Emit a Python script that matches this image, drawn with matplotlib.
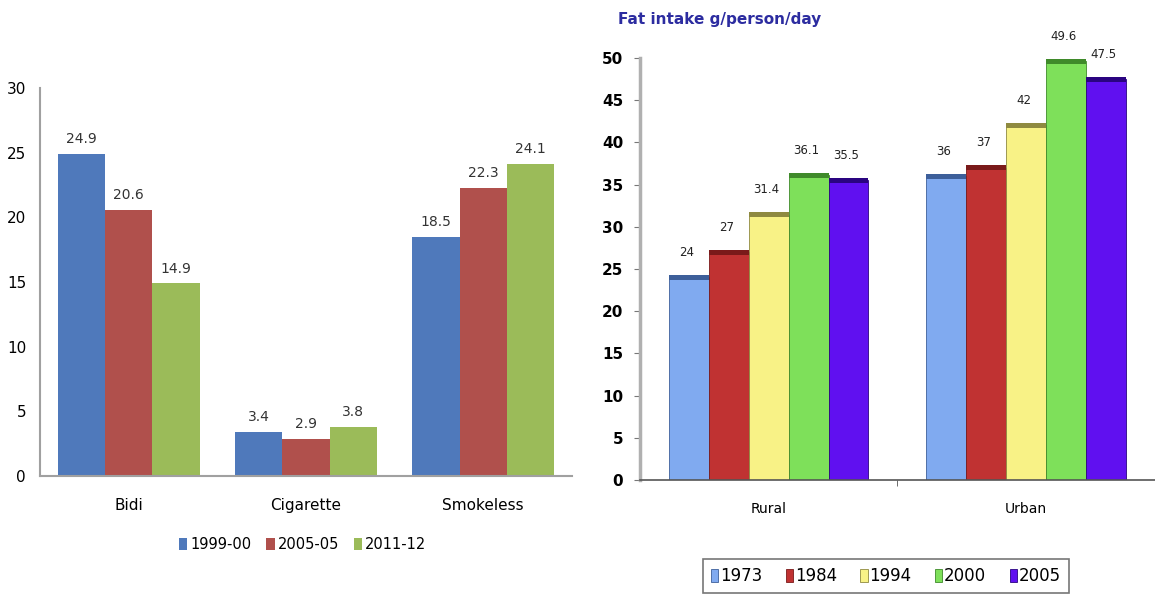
import matplotlib.pyplot as plt
import numpy as np

plt.rcParams['font.family'] = ['Liberation Sans Narrow', 'DejaVu Sans']

# left chart data
tob_cats = ['Bidi', 'Cigarette', 'Smokeless']
tob_years = ['1999-00', '2005-05', '2011-12']
tob_vals = [[24.9, 3.4, 18.5],
            [20.6, 2.9, 22.3],
            [14.9, 3.8, 24.1]]
tob_cols = ['#4f79bb', '#b0504c', '#9bbb59']

# right chart data
fat_cats = ['Rural', 'Urban']
fat_years = ['1973', '1984', '1994', '2000', '2005']
fat_vals = [[24, 36],
            [27, 37],
            [31.4, 42],
            [36.1, 49.6],
            [35.5, 47.5]]
fat_labels = [['24', '36'], ['27', '37'], ['31.4', '42'], ['36.1', '49.6'], ['35.5', '47.5']]
fat_cols = ['#80aaf0', '#c03232', '#f8f286', '#7ee05a', '#6010f0']
fat_dark = ['#3d5f9a', '#7a1a1a', '#8f8a40', '#3f8a2a', '#2a0480']

cond = ['DejaVu Sans Condensed', 'DejaVu Sans']

fig = plt.figure(figsize=(11.55, 6.02), dpi=100)

# ---- left ----
ax1 = fig.add_axes([0.0346, 0.209, 0.4605, 0.645])
x = np.arange(len(tob_cats))
w = 0.267
for i in range(3):
    xs = x + (i - 1) * w
    ax1.bar(xs, tob_vals[i], w, color=tob_cols[i], label=tob_years[i])
    for xx, v in zip(xs, tob_vals[i]):
        ax1.text(xx, v + 0.6, '%.1f' % v, ha='center', va='bottom', fontsize=10,
                 color='#333333', family=cond)
ax1.set_xlim(-0.5, 2.5)
ax1.set_ylim(0, 30)
ax1.set_yticks(range(0, 31, 5))
ax1.set_xticks(x)
ax1.set_xticklabels(tob_cats, fontsize=11, family=cond)
ax1.tick_params(axis='y', length=0, labelsize=11, pad=10)
ax1.tick_params(axis='x', length=0, pad=16)
for lab in ax1.get_yticklabels():
    lab.set_family(cond)
for s in ['top', 'right']:
    ax1.spines[s].set_visible(False)
ax1.spines['left'].set_color('#a0a0a0')
ax1.spines['bottom'].set_color('#a0a0a0')
ax1.spines['left'].set_linewidth(1.5)
ax1.spines['bottom'].set_linewidth(1.5)
fig.legend(*ax1.get_legend_handles_labels(), loc='center', bbox_to_anchor=(0.262, 0.095),
           ncol=3, frameon=False, handlelength=0.6, handleheight=0.9,
           handletextpad=0.2, columnspacing=1.0,
           prop={'family': cond, 'size': 10.5})

# ---- right ----
ax2 = fig.add_axes([0.554, 0.2027, 0.446, 0.701])
x2 = np.arange(len(fat_cats))
w2 = 0.155
for i in range(5):
    xs = x2 + (i - 2) * w2
    ax2.bar(xs, fat_vals[i], w2, color=fat_cols[i], edgecolor=fat_dark[i], linewidth=0.6,
            label=fat_years[i])
    # darker top strip for the old 3d look
    ax2.bar(xs, [0.6, 0.6], w2, bottom=np.array(fat_vals[i]) - 0.3, color=fat_dark[i])
    for xx, v, t in zip(xs, fat_vals[i], fat_labels[i]):
        ax2.text(xx - 0.01, v + 2.2, t, ha='center', va='bottom', fontsize=8.5,
                 color='#222222', family=cond)
ax2.set_xlim(-0.5, 1.5)
ax2.set_ylim(0, 50)
ax2.set_yticks(range(0, 51, 5))
ax2.set_xticks(x2)
ax2.set_xticklabels(fat_cats, fontsize=10, family=cond)
ax2.set_xticks([0.5], minor=True)
ax2.tick_params(axis='x', which='major', length=0, pad=16)
ax2.tick_params(axis='x', which='minor', length=4, color='#555555')
ax2.tick_params(axis='y', length=4, color='#777777', labelsize=11, pad=8)
for lab in ax2.get_yticklabels():
    lab.set_fontweight('bold')
    lab.set_family(cond)
for s in ['top', 'right']:
    ax2.spines[s].set_visible(False)
ax2.spines['left'].set_color('#b0b0b0')
ax2.spines['left'].set_linewidth(2.5)
ax2.spines['bottom'].set_color('#555555')
ax2.spines['bottom'].set_linewidth(1.2)
fig.text(0.535, 0.967, 'Fat intake g/person/day', fontsize=11, fontweight='bold',
         color='#2c2ca0', ha='left', va='center', family=cond)
h, l = ax2.get_legend_handles_labels()
h = h[0::2] if len(h) > 5 else h
leg = fig.legend(h[:5], fat_years, loc='center', bbox_to_anchor=(0.767, 0.043), ncol=5,
                 handlelength=0.45, handleheight=0.8, handletextpad=0.1,
                 columnspacing=1.4, fancybox=False, edgecolor='#555555',
                 borderpad=0.5, borderaxespad=0,
                 prop={'family': cond, 'size': 12})
leg.get_frame().set_linewidth(1.2)

fig.savefig('out.png', dpi=100)
